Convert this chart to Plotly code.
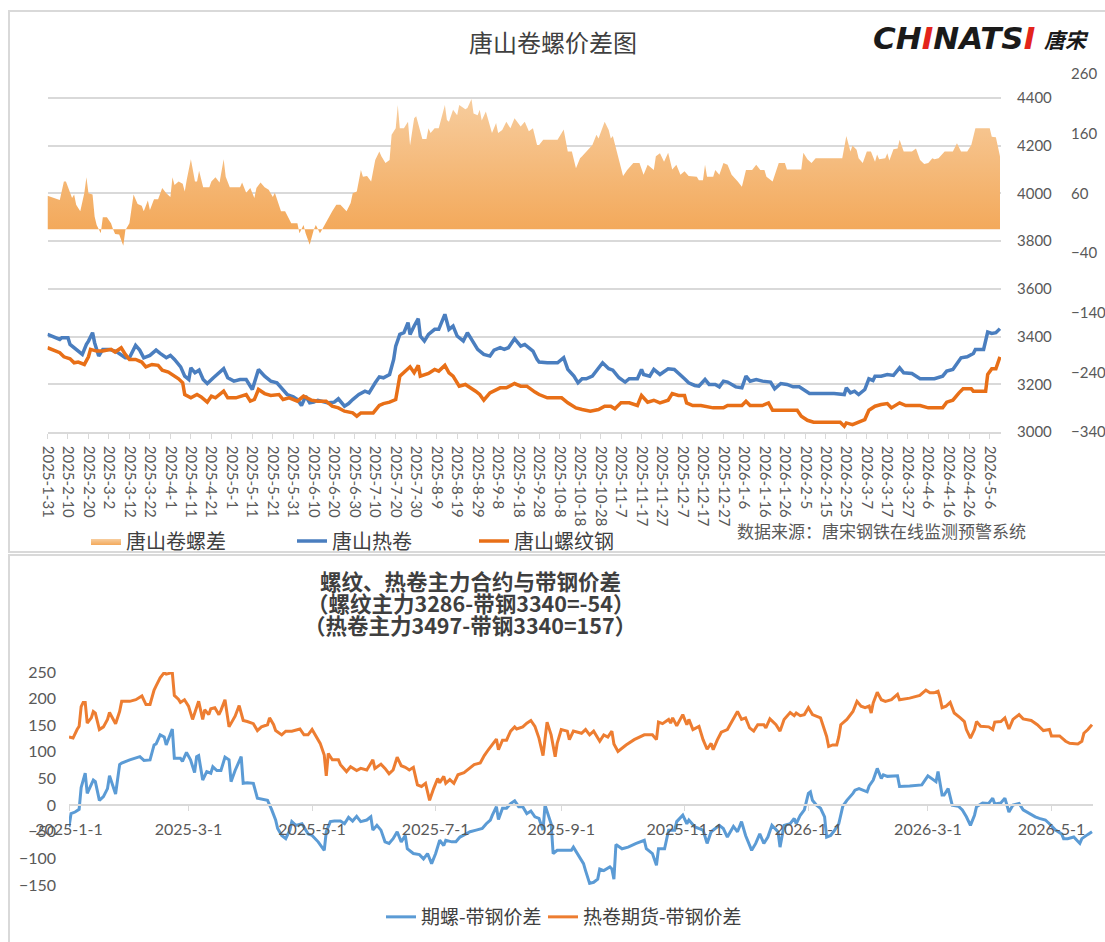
import pandas as pd
import plotly.graph_objects as go

W, H = 1105, 942
CJK = "Noto Sans CJK SC"
NUM = "Lato, 'Noto Sans CJK SC', sans-serif"

# ---------------- top chart data (days since 2025-01-31) ----------------
top_base = "2025-01-31"
coil_day = [0,3,6,7,10,11,13,16,17,19,20,22,23,25,27,30,33,35,38,40,43,45,47,50,53,55,58,60,62,65,
            67,69,70,72,74,76,78,81,83,86,88,91,94,97,100,103,106,109,112,115,117,120,122,124,126,128,130,132,135,137,
            140,142,145,147,149,152,155,157,160,162,164,167,169,170,172,174,176,177,179,181,182,184,186,189,191,194,196,198,200,203,
            205,208,210,213,216,218,221,223,225,228,231,233,237,239,
            240,244,249,252,254,257,259,261,263,266,268,271,274,276,279,282,284,288,290,291,294,296,299,303,306,309,311,313,316,318,
            321,323,326,328,330,332,336,339,341,343,346,349,353,355,358,361,364,367,369,372,377,384,389,390,392,394,396,399,401,403,
            404,407,410,413,416,418,422,426,430,433,437,439,442,444,446,449,452,453,457,459,461,463,465]
coil_val = [3409,3399,3388,3395,3395,3367,3353,3335,3325,3367,3381,3416,3374,3318,3346,3346,3339,3329,3311,3311,
            3363,3343,3311,3321,3343,3329,3311,3321,3304,3273,3234,3220,3269,3248,3259,3220,3203,3227,3241,3265,
            3227,3213,3220,3220,3178,3262,3234,3213,3206,3178,3157,3147,3136,3111,3150,3122,3125,3133,3125,3122,
            3125,3139,3108,3119,3136,3157,3171,3164,3206,3231,3227,3241,3304,3360,3409,3416,3458,3409,3444,3475,
            3402,3381,3409,3430,3430,3493,3430,3444,3402,3381,3416,3374,3346,3325,3318,3343,3353,3346,3353,3391,
            3360,3367,3339,3304,
            3293,3290,3290,3311,3262,3234,3206,3223,3223,3234,3255,3290,3265,3259,3227,3209,3223,3223,3262,3241,
            3234,3262,3241,3265,3262,3241,3223,3206,3195,3192,3220,3199,3199,3189,3213,3209,3189,3185,3234,3213,
            3220,3213,3209,3181,3203,3199,3189,3189,3178,3161,3161,3161,3157,3185,3164,3171,3157,3178,3223,3216,
            3234,3234,3241,3237,3269,3248,3245,3223,3223,3223,3234,3255,3262,3290,3311,3315,3329,3346,3346,3419,
            3413,3416,3433]

rebar_day = [0,3,6,8,11,13,15,18,20,21,24,27,31,33,36,38,40,43,46,48,51,54,56,59,61,64,66,67,70,73,
             75,78,80,82,86,88,92,97,99,101,103,106,109,113,115,118,122,125,129,132,136,139,142,145,149,151,153,156,159,162,
             164,167,169,170,172,176,177,179,181,182,186,189,191,194,196,198,201,204,206,209,211,213,216,218,221,224,228,231,234,238,
             240,244,251,254,258,261,265,269,272,275,277,280,284,288,290,293,296,299,303,305,308,311,312,315,319,325,330,332,339,341,
             343,349,352,354,360,366,368,371,374,381,387,389,390,393,397,399,401,404,407,410,412,416,419,426,430,437,439,442,445,447,
             451,452,458,459,461,463,465]
rebar_val = [3353,3343,3332,3315,3307,3290,3293,3283,3315,3346,3339,3339,3346,3335,3353,3325,3304,3304,3293,3273,
             3283,3279,3259,3251,3241,3223,3206,3157,3143,3157,3147,3125,3150,3143,3171,3143,3143,3157,3129,3136,
             3178,3161,3153,3157,3136,3143,3129,3150,3133,3129,3129,3108,3101,3087,3080,3066,3080,3080,3080,3111,
             3119,3125,3133,3136,3234,3269,3273,3248,3279,3234,3245,3262,3255,3279,3248,3234,3192,3199,3189,3171,
             3157,3133,3164,3171,3185,3185,3203,3192,3192,3167,
             3157,3143,3143,3122,3101,3094,3087,3094,3108,3108,3097,3122,3122,3111,3153,3125,3133,3122,3133,3161,
             3153,3153,3122,3111,3111,3101,3101,3111,3111,3129,3111,3111,3122,3091,3091,3091,3066,3049,3041,3041,
             3041,3024,3038,3031,3045,3052,3091,3108,3115,3119,3101,3122,3111,3111,3101,3101,3125,3133,3164,3181,
             3181,3171,3171,3241,3265,3265,3315]

spread_day = [0,5,6,8,9,12,13,14,16,18,19,20,22,23,24,26,27,29,31,32,33,35,37,38,40,42,44,46,47,49,
              50,52,54,56,58,60,61,62,64,66,67,68,70,72,73,74,76,79,80,82,84,86,87,89,94,95,97,99,101,102,
              104,106,108,110,111,114,116,119,122,123,125,126,128,130,131,133,134,136,139,141,
              143,146,148,149,151,153,154,156,158,160,162,163,165,167,168,170,171,172,174,176,
              177,179,180,182,183,185,186,187,189,191,194,195,196,198,200,201,204,205,207,208,
              210,211,212,214,217,219,220,222,224,226,228,231,233,235,237,239,
              240,242,249,251,252,254,256,258,260,261,264,266,268,269,272,274,275,276,279,281,
              283,286,289,291,293,296,297,299,301,303,305,307,309,311,313,317,318,320,321,322,
              325,326,328,330,332,334,337,339,341,344,346,348,350,351,354,357,360,361,368,369,
              371,373,375,381,388,390,392,393,395,396,398,400,402,404,405,406,409,410,411,413,
              415,416,418,422,424,426,428,430,432,433,435,438,442,444,446,449,451,453,456,460,
              461,463,465]
spread_val = [56,50,49,80,80,52,58,41,30,61,87,60,58,21,7,-7,20,20,10,0,-8,-9,-28,-2,10,58,42,39,30,48,
              32,50,50,69,60,54,87,74,80,76,63,83,117,80,80,98,70,70,80,87,78,117,88,70,70,78,61,69,52,69,
              78,70,66,54,61,30,30,10,10,-7,7,-7,-26,-1,7,-7,-1,None,30,41,
              41,30,44,60,63,99,88,89,80,116,130,122,111,116,158,169,208,169,169,180,
              140,186,189,164,151,151,169,161,169,169,208,183,180,200,191,208,201,203,218,194,
              191,200,182,197,161,178,161,166,180,169,186,172,180,164,169,141,
              141,150,150,161,167,130,130,102,119,122,133,141,158,152,180,166,152,156,116,89,
              99,111,111,91,108,99,122,127,113,128,100,108,91,97,89,88,82,82,108,88,
              88,99,91,111,108,91,80,71,99,99,108,99,99,88,80,111,111,100,100,128,
              117,111,119,119,119,156,130,140,133,119,111,130,130,113,125,117,119,127,115,134,
              135,150,130,130,135,116,109,111,119,117,119,130,130,144,130,130,141,169,169,169,
              155,154,122]

# ---------------- bottom chart data (days since 2025-01-01) ----------------
bot_base = "2025-01-01"
hc_day = [0,2,4,5,6,7,8,9,11,12,13,15,17,19,20,22,23,25,26,30,33,36,38,40,42,43,45,47,48,51,
          52,54,55,57,59,61,63,64,66,67,69,70,72,74,75,77,79,82,84,86,88,91,93,95,98,99,101,102,105,107,
          110,114,116,118,120,122,124,126,127,128,130,133,134,137,139,142,144,147,150,151,
          154,156,158,160,162,164,166,168,170,172,174,176,178,180,182,183,185,186,188,190,
          192,195,198,200,203,205,207,209,211,212,214,216,218,220,221,224,226,228,230,232,
          234,236,238,240,241,243,246,247,249,253,255,257,259,262,264,266,268,269,271,275,
          279,284,288,290,291,293,296,297,298,300,303,305,306,308,311,313,315,317,318,320,
          322,325,328,330,332,334,336,338,340,343,344,346,349,351,353,356,358,359,361,363,
          365,367,371,373,374,375,377,379,380,381,384,387,389,391,393,395,396,397,399,401,
          403,406,409,410,415,420,423,425,427,429,430,431,433,435,437,440,442,443,445,447,
          448,450,454,456,457,460,462,463,464,466,469,471,475,478,481,484,485,489,492,494,
          498,500,501,503,505]
hc_val = [128,126,142,148,185,193,193,154,164,176,173,142,147,161,174,161,153,176,195,195,
          198,205,189,189,216,224,239,249,246,249,206,199,193,198,186,161,186,195,161,179,
          170,181,183,170,178,198,147,167,187,159,157,153,140,147,151,164,151,140,132,139,
          139,143,132,132,142,129,116,94,55,97,85,85,76,63,72,65,69,66,85,69,
          77,69,59,66,90,74,71,66,71,38,35,41,9,31,50,42,54,41,48,41,
          57,61,69,76,79,93,104,113,124,104,122,122,139,147,143,147,154,159,148,126,
          93,156,132,91,116,142,139,123,139,135,142,132,139,120,132,128,139,115,101,113,
          123,132,132,123,156,153,161,154,164,149,170,151,161,142,148,123,105,116,104,122,
          137,142,161,176,161,164,145,139,151,151,145,162,151,139,161,174,168,173,168,170,
          183,170,164,142,129,110,113,113,128,151,161,176,195,186,183,186,173,192,212,198,
          195,198,208,198,201,206,216,211,211,214,201,183,186,193,173,164,157,142,126,142,
          157,148,147,142,156,157,164,153,143,161,170,162,159,151,140,142,130,130,120,116,
          115,120,135,142,151]

rb_day = [0,1,3,5,6,8,9,10,12,13,15,17,19,20,22,23,25,26,30,35,37,40,42,43,45,47,48,51,52,55,
          56,58,60,62,63,64,66,68,70,71,73,75,77,79,80,82,85,86,88,91,93,96,98,100,102,103,105,107,109,110,
          112,115,117,118,120,123,126,127,129,131,134,136,138,140,142,144,147,149,150,152,
          154,156,158,160,162,164,166,167,170,173,175,177,179,181,183,185,186,189,191,193,
          196,198,201,204,206,208,209,211,212,214,216,218,220,222,224,226,228,230,232,234,
          235,238,239,241,243,246,248,249,252,254,255,257,259,261,262,264,267,268,269,270,
          273,276,280,284,285,288,290,291,294,296,299,300,303,305,306,309,313,315,317,319,
          321,323,325,328,330,332,334,337,339,341,343,345,347,350,351,353,356,358,359,361,
          363,365,366,367,369,371,373,374,376,378,380,382,384,387,388,390,392,394,395,397,
          399,401,402,404,409,410,415,421,424,426,428,429,431,432,434,436,439,441,443,445,
          447,448,451,454,456,457,460,462,464,466,469,471,474,477,479,482,484,487,490,491,
          493,496,499,500,503,505]
rb_val = [-41,-16,-13,-8,33,60,22,30,47,44,9,16,31,55,31,21,76,79,85,91,84,85,113,115,132,128,113,143,88,88,
          82,99,85,61,91,93,47,63,60,72,65,65,90,85,44,65,91,41,42,41,13,11,9,-8,-28,-44,-57,-63,-47,-31,
          -38,-35,-47,-54,-57,-69,-85,-50,-31,-30,-30,-35,-23,-30,-21,-31,-28,-22,-47,-38,
          -47,-69,-72,-63,-50,-69,-57,-82,-91,-93,-101,-91,-110,-91,-66,-76,-66,-69,-69,-60,
          -54,-50,-47,-44,-35,-28,-19,-3,-27,-6,-6,3,8,-3,-3,-16,-11,-22,-25,-47,
          0,-35,-91,-85,-85,-85,-85,-79,-98,-110,-123,-147,-145,-139,-120,-123,-116,-120,-139,-74,
          -82,-79,-72,-66,-82,-91,-113,-82,-82,-47,-47,-31,-19,-35,-28,-41,-47,-72,-50,-44,
          -38,-44,-60,-40,-50,-31,-57,-85,-72,-54,-72,-60,-38,-50,-79,-38,-35,-25,-35,-19,
          -9,22,25,9,0,-6,-22,-60,-57,-47,-35,-2,9,22,28,31,28,25,36,47,
          69,50,57,54,55,35,36,38,55,50,44,63,19,19,31,0,-2,-9,-22,-38,
          -19,-3,4,3,13,2,4,13,-13,0,3,-9,-16,-22,-25,-28,-35,-47,-54,-63,
          -63,-60,-72,-63,-55,-50]

top_names = ["唐山卷螺差", "唐山热卷", "唐山螺纹钢"]
bot_names = ["期螺-带钢价差", "热卷期货-带钢价差"]
bot_title = ["螺纹、热卷主力合约与带钢价差",
             "（螺纹主力3286-带钢3340=-54）",
             "（热卷主力3497-带钢3340=157）"]


def to_dates(base, days):
    return pd.Timestamp(base) + pd.to_timedelta(days, unit="D")


def px(x):
    return x / W


def py(y):
    return 1 - y / H


fig = go.Figure()

fig.add_trace(go.Scatter(
    x=to_dates(top_base, spread_day), y=spread_val, name=top_names[0],
    xaxis="x", yaxis="y2", mode="lines", fill="tozeroy", connectgaps=False,
    line=dict(width=0, color="rgba(0,0,0,0)"), fillcolor="#f5b977",
    fillgradient=dict(type="vertical", start=0, stop=220,
                      colorscale=[[0, "#f3a95b"], [1, "#f7cd9e"]]),
    legend="legend", showlegend=True))
fig.add_trace(go.Scatter(
    x=to_dates(top_base, coil_day), y=coil_val, name=top_names[1],
    xaxis="x", yaxis="y", mode="lines", line=dict(color="#4a7ebf", width=3.5),
    legend="legend2"))
fig.add_trace(go.Scatter(
    x=to_dates(top_base, rebar_day), y=rebar_val, name=top_names[2],
    xaxis="x", yaxis="y", mode="lines", line=dict(color="#e86f17", width=3.5),
    legend="legend3"))
fig.add_trace(go.Scatter(
    x=to_dates(bot_base, rb_day), y=rb_val, name=bot_names[0],
    xaxis="x2", yaxis="y3", mode="lines", line=dict(color="#5b9bd5", width=3),
    legend="legend4"))
fig.add_trace(go.Scatter(
    x=to_dates(bot_base, hc_day), y=hc_val, name=bot_names[1],
    xaxis="x2", yaxis="y3", mode="lines", line=dict(color="#ed7d31", width=3),
    legend="legend5"))

grid = "#d9d9d9"
tickc = "#595959"


def leg(x, y, size):
    return dict(x=px(x), y=py(y), orientation="h", xanchor="left", yanchor="middle",
                bgcolor="rgba(0,0,0,0)", borderwidth=0,
                font=dict(family=CJK, size=size, color="#404040"))


fig.update_layout(
    template="none",
    width=W, height=H, autosize=False,
    margin=dict(l=0, r=0, t=0, b=0, pad=0),
    paper_bgcolor="white", plot_bgcolor="rgba(0,0,0,0)",
    font=dict(family=NUM, color=tickc),
    xaxis=dict(domain=[px(47.5), px(1001)], anchor="y", type="date", automargin=False,
               range=["2025-01-31", "2026-05-11 12:00"],
               tick0="2025-01-31", dtick=10 * 86400000, tickformat="%Y-%-m-%-d",
               tickangle=90, ticks="outside", ticklen=5, tickcolor=grid,
               showline=True, linecolor=grid, linewidth=1.5, showgrid=False, zeroline=False,
               tickfont=dict(size=15, color=tickc), ticklabelstandoff=4),
    yaxis=dict(domain=[py(432), py(74)], anchor="x", side="right", automargin=False,
               range=[2999.9, 4500], tick0=3000, dtick=200,
               showgrid=True, gridcolor=grid, gridwidth=1.5, zeroline=False,
               ticks="", showline=False, tickfont=dict(size=15, color=tickc),
               ticklabelstandoff=15),
    yaxis2=dict(overlaying="y", anchor="free", side="right", position=px(1068), automargin=False,
                range=[-340.01, 260.01], tick0=-340, dtick=100,
                showgrid=False, zeroline=False, ticks="", showline=False,
                tickfont=dict(size=15, color=tickc), ticklabelstandoff=2),
    xaxis2=dict(domain=[px(69), px(1093)], anchor="free", position=py(805), automargin=False,
                type="date", range=["2025-01-01", "2026-05-21 12:00"],
                tick0="2025-01-01", dtick="M2", tickformat="%Y-%-m-%-d",
                ticks="outside", ticklen=5, tickcolor=grid,
                showline=True, linecolor=grid, linewidth=1.5, showgrid=False, zeroline=False,
                tickfont=dict(size=16, color=tickc), ticklabelstandoff=5),
    yaxis3=dict(domain=[py(885), py(672)], anchor="x2", automargin=False,
                range=[-150.1, 250.1], tick0=0, dtick=50,
                showgrid=False, zeroline=False, showline=False, ticks="",
                tickfont=dict(size=16, color=tickc), ticklabelstandoff=12),
    legend=leg(86, 541, 20),
    legend2=leg(292, 541, 20),
    legend3=leg(474, 541, 20),
    legend4=leg(381, 917, 19),
    legend5=leg(543, 917, 19),
    showlegend=True,
)

# chart frames
fig.add_shape(type="rect", xref="paper", yref="paper",
              x0=px(9), x1=px(1112), y0=py(552), y1=py(11),
              line=dict(color="#d9d9d9", width=2), fillcolor="rgba(0,0,0,0)", layer="below")
fig.add_shape(type="rect", xref="paper", yref="paper",
              x0=px(9), x1=px(1112), y0=py(950), y1=py(555),
              line=dict(color="#d9d9d9", width=2), fillcolor="rgba(0,0,0,0)", layer="below")

# titles and texts
fig.add_annotation(text="唐山卷螺价差图", xref="paper", yref="paper",
                   x=px(553), y=py(42), showarrow=False, xanchor="center", yanchor="middle",
                   font=dict(family=CJK, size=24, color="#404040"))
fig.add_annotation(text="<b><i>CH<span style='color:#e3241b'>I</span>NATS<span style='color:#e3241b'>I</span></i></b>",
                   xref="paper", yref="paper", x=px(871), y=py(38), showarrow=False,
                   xanchor="left", yanchor="middle",
                   font=dict(family="DejaVu Sans", size=31, color="#1a1a1a"))
fig.add_annotation(text="<b><i>唐宋</i></b>", xref="paper", yref="paper",
                   x=px(1042), y=py(39), showarrow=False, xanchor="left", yanchor="middle",
                   font=dict(family=CJK, size=21, color="#1a1a1a"))
fig.add_annotation(text="数据来源：唐宋钢铁在线监测预警系统", xref="paper", yref="paper",
                   x=px(735), y=py(530), showarrow=False, xanchor="left", yanchor="middle",
                   font=dict(family=CJK, size=17, color="#595959"))
for txt, yy in zip(bot_title, [580, 602, 624]):
    fig.add_annotation(text="<b>" + txt + "</b>", xref="paper", yref="paper",
                       x=px(470), y=py(yy), showarrow=False, xanchor="center", yanchor="middle",
                       font=dict(family=CJK, size=21.5, color="#3f3f3f"))

fig.write_html("out.html", config={"displayModeBar": False},
               post_script="document.body.style.margin='0';document.body.style.overflow='hidden';")
